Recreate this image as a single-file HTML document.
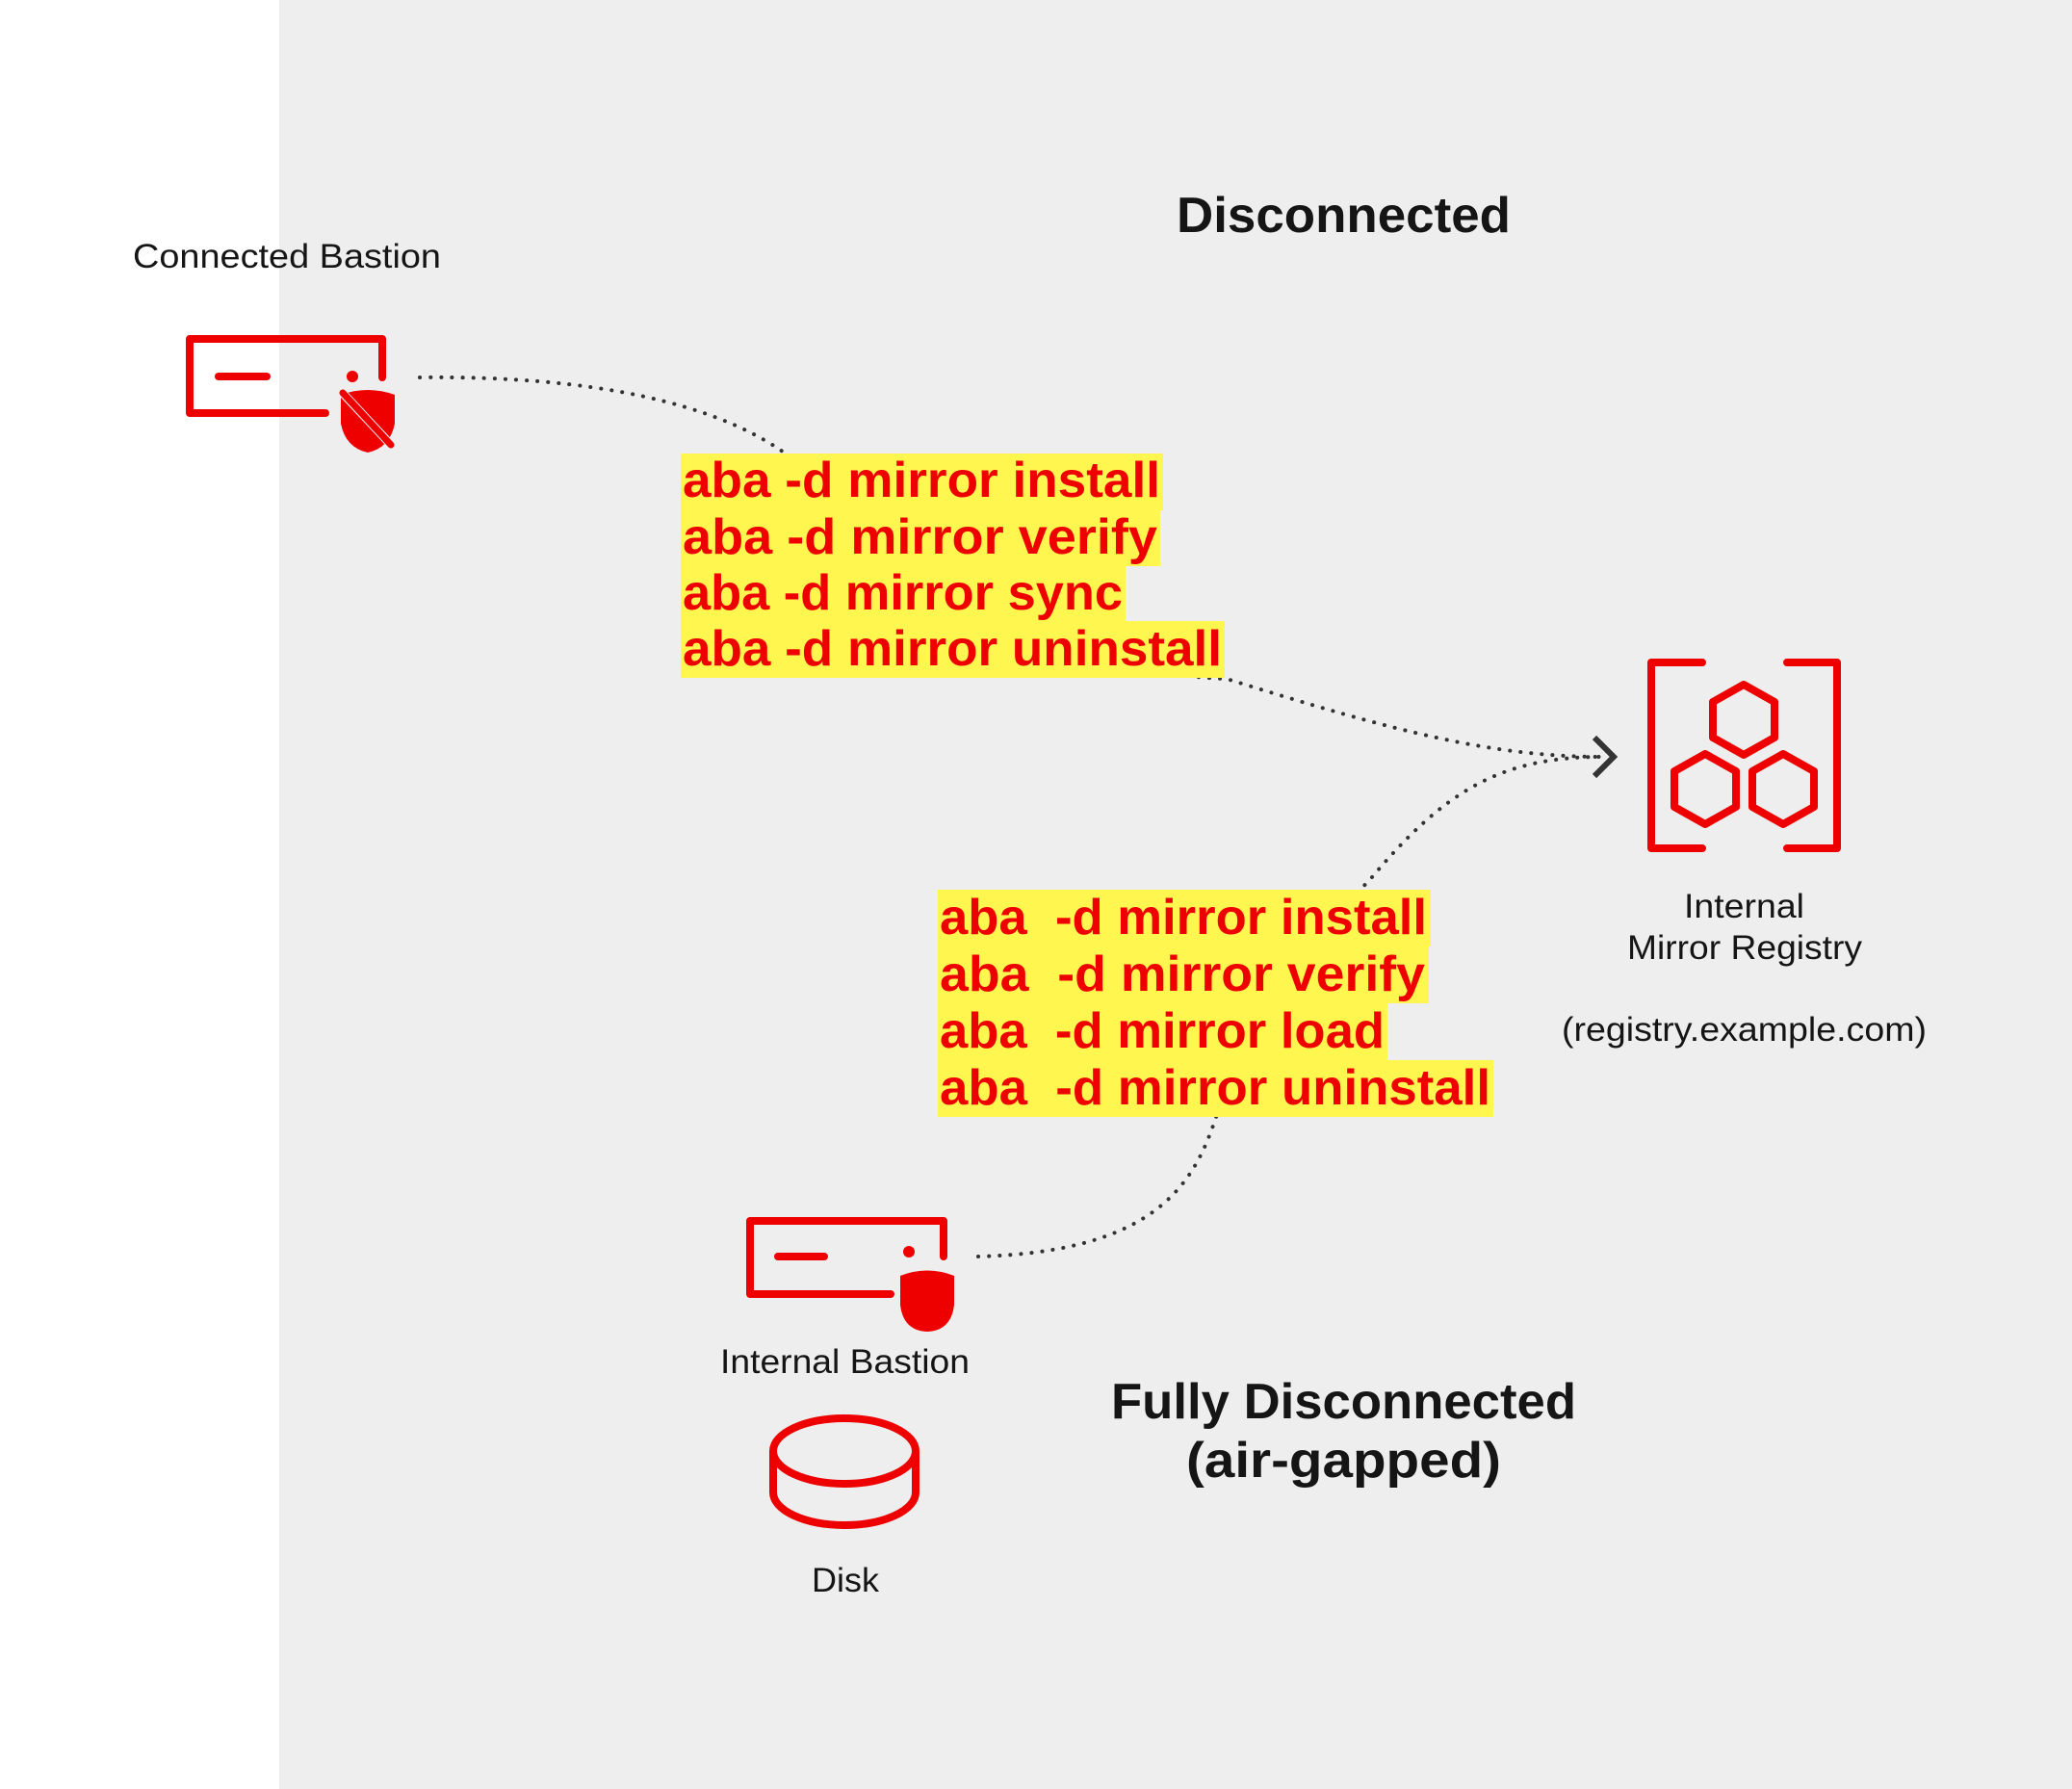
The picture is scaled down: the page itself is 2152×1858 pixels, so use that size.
<!DOCTYPE html>
<html><head><meta charset="utf-8"><style>
html,body{margin:0;padding:0;background:#fff}
svg{display:block}
text{font-family:"Liberation Sans",sans-serif;fill:#151515}
.cmd{font-weight:bold;fill:#ee0000;font-size:52px}
</style></head><body>
<svg width="2152" height="1858" viewBox="0 0 2152 1858" xmlns="http://www.w3.org/2000/svg">
<rect x="0" y="0" width="2152" height="1858" fill="#fff"/>
<rect x="290" y="0" width="1862" height="1858" fill="#eeeeee"/>

<!-- connectors -->
<g fill="none" stroke="#333" stroke-width="4" stroke-linecap="round" stroke-dasharray="0.1 11">
<path d="M436,392 C620,390 740,420 810,467 C1000,600 1100,700 1274,705 C1450,760 1550,786 1665,786"/>
<path d="M1016,1305 C1200,1300 1240,1230 1263,1160 C1330,1000 1380,950 1420,917 C1500,820 1560,786 1665,786"/>
</g>
<path d="M1656,766 L1676,786 L1656,806" fill="none" stroke="#333" stroke-width="6"/>

<!-- label boxes -->
<g fill="#fff64f">
<rect x="707" y="471" width="501" height="59"/>
<rect x="707" y="529" width="498" height="59"/>
<rect x="707" y="587" width="462" height="59"/>
<rect x="707" y="645" width="565" height="59"/>
<rect x="974" y="924" width="512" height="59"/>
<rect x="974" y="983" width="510" height="59"/>
<rect x="974" y="1042" width="467" height="59"/>
<rect x="974" y="1101" width="577" height="59"/>
</g>
<text class="cmd" x="709" y="516" textLength="496" lengthAdjust="spacingAndGlyphs">aba -d mirror install</text>
<text class="cmd" x="709" y="575" textLength="493" lengthAdjust="spacingAndGlyphs">aba -d mirror verify</text>
<text class="cmd" x="709" y="633" textLength="457" lengthAdjust="spacingAndGlyphs">aba -d mirror sync</text>
<text class="cmd" x="709" y="691" textLength="560" lengthAdjust="spacingAndGlyphs">aba -d mirror uninstall</text>
<text class="cmd" x="976" y="970" textLength="506" lengthAdjust="spacingAndGlyphs" xml:space="preserve">aba  -d mirror install</text>
<text class="cmd" x="976" y="1029" textLength="504" lengthAdjust="spacingAndGlyphs" xml:space="preserve">aba  -d mirror verify</text>
<text class="cmd" x="976" y="1088" textLength="462" lengthAdjust="spacingAndGlyphs" xml:space="preserve">aba  -d mirror load</text>
<text class="cmd" x="976" y="1147" textLength="572" lengthAdjust="spacingAndGlyphs" xml:space="preserve">aba  -d mirror uninstall</text>

<!-- connected bastion icon -->
<g fill="none" stroke="#ee0000" stroke-width="8" stroke-linecap="round" stroke-linejoin="round">
<path d="M397,392 L397,352 L197,352 L197,429 L338,429"/>
<path d="M227,391 L277,391"/>
</g>
<circle cx="366" cy="391" r="6" fill="#ee0000"/>
<path d="M354,410 Q382,400 410,410 L410,440 Q405,465 382,470 Q359,465 354,440 Z" fill="#ee0000"/>
<path d="M352,404 L408,464" stroke="#eeeeee" stroke-width="9"/>
<path d="M356,408 L406,462" stroke="#ee0000" stroke-width="7" stroke-linecap="round"/>

<!-- internal bastion icon -->
<g fill="none" stroke="#ee0000" stroke-width="8" stroke-linecap="round" stroke-linejoin="round">
<path d="M980,1305 L980,1268 L779,1268 L779,1344 L925,1344"/>
<path d="M808,1305 L856,1305"/>
</g>
<circle cx="944" cy="1300" r="6" fill="#ee0000"/>
<path d="M935,1325 Q963,1314 991,1325 L991,1355 Q988,1382 963,1383 Q938,1382 935,1355 Z" fill="#ee0000"/>

<!-- registry icon -->
<g fill="none" stroke="#ee0000" stroke-width="8" stroke-linecap="round" stroke-linejoin="round">
<path d="M1768,688 L1715,688 L1715,881 L1768,881"/>
<path d="M1856,688 L1908,688 L1908,881 L1856,881"/>
<path d="M1811,711 L1843,729 L1843,766 L1811,784 L1779,766 L1779,729 Z"/>
<path d="M1771,783 L1803,801 L1803,838 L1771,856 L1739,838 L1739,801 Z"/>
<path d="M1852,783 L1884,801 L1884,838 L1852,856 L1820,838 L1820,801 Z"/>
</g>

<!-- disk -->
<g fill="none" stroke="#ee0000" stroke-width="8">
<ellipse cx="877" cy="1507" rx="74" ry="34"/>
<path d="M803,1507 L803,1550 A74,34 0 0 0 951,1550 L951,1507"/>
</g>

<!-- labels -->
<text x="1222" y="241" font-size="52" font-weight="bold" textLength="347" lengthAdjust="spacingAndGlyphs">Disconnected</text>
<text x="138" y="278" font-size="35" textLength="320" lengthAdjust="spacingAndGlyphs">Connected Bastion</text>
<text x="1749" y="953" font-size="35" textLength="125" lengthAdjust="spacingAndGlyphs">Internal</text>
<text x="1690" y="996" font-size="35" textLength="244" lengthAdjust="spacingAndGlyphs">Mirror Registry</text>
<text x="1622" y="1081" font-size="35" textLength="379" lengthAdjust="spacingAndGlyphs">(registry.example.com)</text>
<text x="748" y="1426" font-size="35" textLength="259" lengthAdjust="spacingAndGlyphs">Internal Bastion</text>
<text x="1154" y="1473" font-size="52" font-weight="bold" textLength="483" lengthAdjust="spacingAndGlyphs">Fully Disconnected</text>
<text x="1232" y="1534" font-size="52" font-weight="bold" textLength="327" lengthAdjust="spacingAndGlyphs">(air-gapped)</text>
<text x="843" y="1653" font-size="35" textLength="70" lengthAdjust="spacingAndGlyphs">Disk</text>
</svg>
</body></html>
